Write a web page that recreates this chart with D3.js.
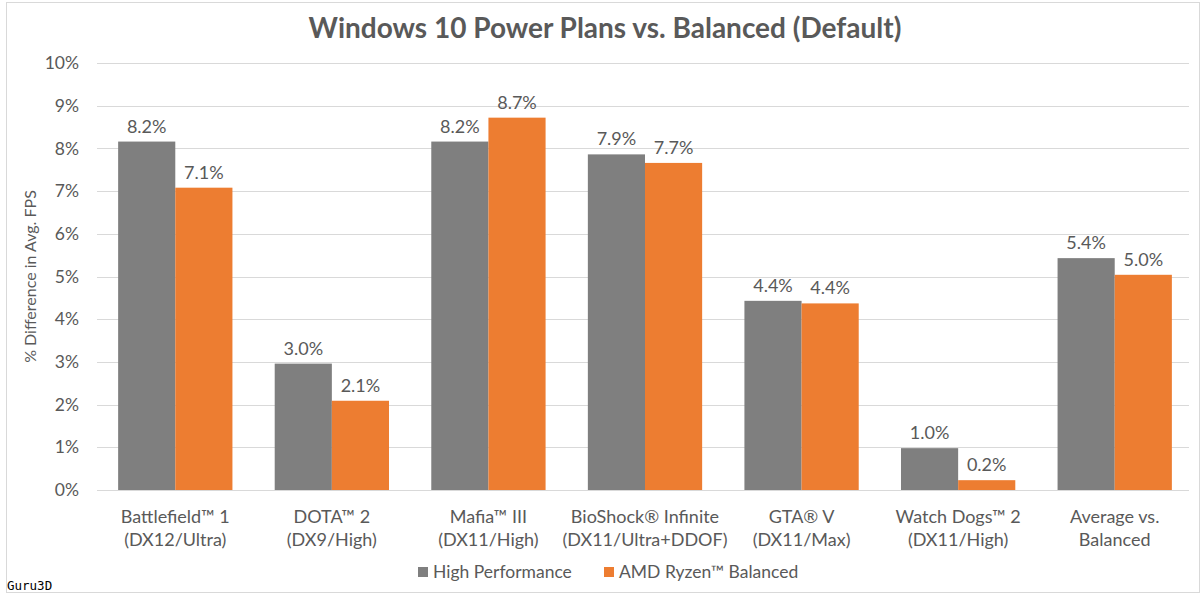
<!DOCTYPE html>
<html>
<head>
<meta charset="utf-8">
<script src="https://cdn.jsdelivr.net/npm/d3@7"></script>
<style>
  body { margin: 0; background: #fff; }
  text { font-family: Lato, "Open Sans", sans-serif; fill: #595959; }
</style>
</head>
<body>
<div id="chart"></div>
<script>
// data
const games = ["Battlefield™ 1", "DOTA™ 2", "Mafia™ III", "BioShock® Infinite", "GTA® V", "Watch Dogs™ 2", "Average vs."];
const settings = ["(DX12/Ultra)", "(DX9/High)", "(DX11/High)", "(DX11/Ultra+DDOF)", "(DX11/Max)", "(DX11/High)", "Balanced"];
const seriesNames = ["High Performance", "AMD Ryzen™ Balanced"];
const highPerf = [8.16, 2.96, 8.16, 7.86, 4.43, 0.98, 5.43];
const ryzenBal = [7.08, 2.09, 8.72, 7.66, 4.37, 0.23, 5.04];
const yTicks = [0, 1, 2, 3, 4, 5, 6, 7, 8, 9, 10];

const width = 1204;
const height = 602;
const margin = { top: 63, right: 11, bottom: 112, left: 97 };

const svg = d3.select("#chart")
    .append("svg")
    .attr("width", width)
    .attr("height", height);

// chart border
svg.append("rect")
    .attr("x", 6.5).attr("y", 2.5)
    .attr("width", 1193).attr("height", 590)
    .attr("fill", "none")
    .attr("stroke", "#d9d9d9");

const x = d3.scaleBand()
    .domain(d3.range(games.length))
    .range([margin.left, width - margin.right]);

const y = d3.scaleLinear()
    .domain([0, 10])
    .range([height - margin.bottom, margin.top]);

const color = d3.scaleOrdinal()
    .domain(seriesNames)
    .range(["#7f7f7f", "#ed7d31"]);

// gridlines + y labels
svg.append("g")
    .selectAll("line")
    .data(yTicks)
    .enter()
    .append("line")
    .attr("x1", margin.left)
    .attr("x2", width - margin.right - 4)
    .attr("y1", d => Math.round(y(d)) + 0.5)
    .attr("y2", d => Math.round(y(d)) + 0.5)
    .attr("stroke", "#d9d9d9")
    .attr("stroke-width", 1);

svg.append("g")
    .selectAll("text")
    .data(yTicks)
    .enter()
    .append("text")
    .attr("x", margin.left - 18)
    .attr("y", d => y(d))
    .attr("dy", "0.35em")
    .attr("text-anchor", "end")
    .style("font-size", "17.5px")
    .text(d => d + "%");

// bars
const barW = x.bandwidth() * 0.365;
const series = [highPerf, ryzenBal];

series.forEach((vals, s) => {
    const grp = svg.append("g");
    grp.selectAll("rect")
        .data(vals)
        .enter()
        .append("rect")
        .attr("x", (d, i) => x(i) + x.bandwidth() / 2 - barW + s * barW)
        .attr("y", d => y(d))
        .attr("width", barW)
        .attr("height", d => y(0) - y(d))
        .attr("fill", color(seriesNames[s]));

    grp.selectAll("text")
        .data(vals)
        .enter()
        .append("text")
        .attr("x", (d, i) => x(i) + x.bandwidth() / 2 - barW / 2 + s * barW)
        .attr("y", d => y(d) - 9)
        .attr("text-anchor", "middle")
        .style("font-size", "18px")
        .text(d => d.toFixed(1) + "%");
});

// category labels
const xl = svg.append("g")
    .selectAll("text")
    .data(games)
    .enter()
    .append("text")
    .attr("x", (d, i) => x(i) + x.bandwidth() / 2)
    .attr("y", 523)
    .attr("text-anchor", "middle")
    .style("font-size", "18px");

xl.append("tspan").text(d => d);
xl.append("tspan")
    .attr("x", (d, i) => x(i) + x.bandwidth() / 2)
    .attr("dy", 23)
    .text((d, i) => settings[i]);

// y axis title
svg.append("text")
    .attr("transform", `translate(36,${(y(0) + y(10)) / 2}) rotate(-90)`)
    .attr("text-anchor", "middle")
    .style("font-size", "16px")
    .text("% Difference in Avg. FPS");

// title
svg.append("text")
    .attr("x", width / 2 + 3)
    .attr("y", 38)
    .attr("text-anchor", "middle")
    .style("font-size", "28px")
    .style("font-weight", "bold")
    .text("Windows 10 Power Plans vs. Balanced (Default)");

// legend
const legendX = [418, 604];
const legend = svg.selectAll(".legend")
    .data(seriesNames)
    .enter()
    .append("g")
    .attr("class", "legend")
    .attr("transform", (d, i) => `translate(${legendX[i]},572)`);

legend.append("rect")
    .attr("x", 0)
    .attr("y", -5)
    .attr("width", 10)
    .attr("height", 10)
    .attr("fill", d => color(d));

legend.append("text")
    .attr("x", 15)
    .attr("dy", "0.35em")
    .style("font-size", "17.5px")
    .text(d => d);

// watermark
svg.append("text")
    .attr("x", 7)
    .attr("y", 590)
    .style("font-family", "'DejaVu Sans Mono', monospace")
    .style("font-size", "12.5px")
    .style("fill", "#000")
    .text("Guru3D");
</script>
</body>
</html>
